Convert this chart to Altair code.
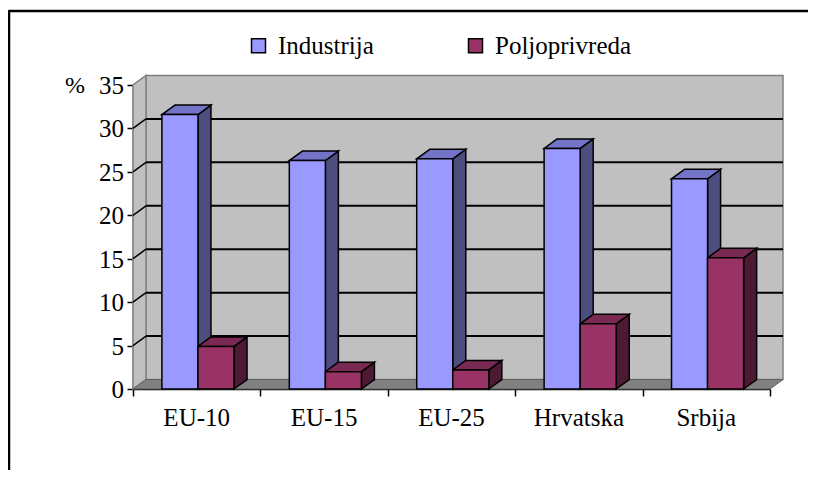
import altair as alt
import pandas as pd

# ---- data ----
categories = ["EU-10", "EU-15", "EU-25", "Hrvatska", "Srbija"]
series = ["Industrija", "Poljoprivreda"]
industrija = [31.6, 26.3, 26.5, 27.7, 24.2]
poljoprivreda = [4.9, 2.0, 2.2, 7.5, 15.1]
y_ticks = [0, 5, 10, 15, 20, 25, 30, 35]
y_unit = ["%"]

# ---- styling / layout constants ----
FONT = "Liberation Serif"
FS = 25
FRONT = ["#9999FF", "#993366"]
TOP = ["#7373C8", "#7A2952"]
SIDE = ["#4D4D80", "#4D1A33"]
W, H = 637, 304
PAD = {"left": 125, "top": 77, "right": 39, "bottom": 82}
N = len(categories)
YMAX = 35
DX = 13 / (W / N)          # depth offset in category units
DY = 9.5 / (H / YMAX)      # depth offset in value units
BAR_W = 0.283
START = 0.227

values = {"Industrija": industrija, "Poljoprivreda": poljoprivreda}

front_rows, side_rows, top_rows = [], [], []
for i, c in enumerate(categories):
    for s_i, s in enumerate(series):
        v = values[s][i]
        x0 = i + START + s_i * BAR_W
        x1 = x0 + BAR_W
        bid = f"{c}-{s}"
        front_rows.append(dict(cat=c, series=s, x0=x0, x1=x1, y0=0.0, y1=v))
        side_rows += [
            dict(bar=bid, series=s, x=x1, y=0.0, y2=v),
            dict(bar=bid, series=s, x=x1 + DX, y=DY, y2=v + DY),
        ]
        top_rows += [
            dict(bar=bid, series=s, y=v, x=x0, x2=x1),
            dict(bar=bid, series=s, y=v + DY, x=x0 + DX, x2=x1 + DX),
        ]
front_df = pd.DataFrame(front_rows)
side_df = pd.DataFrame(side_rows)
top_df = pd.DataFrame(top_rows)

xs = alt.Scale(domain=[0, N], nice=False, zero=False)
ys = alt.Scale(domain=[0, YMAX], nice=False, zero=False)

# axes: lines and ticks from the library; labels drawn as text marks below
x_axis = alt.Axis(
    values=list(range(N + 1)), labels=False,
    tickSize=7, tickWidth=1.5, tickColor="black",
    domainColor="black", domainWidth=1.5,
    grid=False, title=None,
)
y_axis = alt.Axis(
    values=y_ticks, labels=False,
    tickSize=6, tickWidth=1.5, tickColor="black",
    domainColor="black", domainWidth=1.5,
    grid=False, title=None,
)


def X(field):
    return alt.X(field, type="quantitative", scale=xs, axis=x_axis)


def Y(field):
    return alt.Y(field, type="quantitative", scale=ys, axis=y_axis)


# ---- walls and floor ----
wall_df = pd.DataFrame([dict(x=DX, x2=N + DX, y=DY, y2=YMAX + DY)])
back_wall = alt.Chart(wall_df).mark_rect(
    fill="#C0C0C0", stroke="#808080", strokeWidth=1.5
).encode(x=X("x"), x2="x2", y=Y("y"), y2="y2")

left_df = pd.DataFrame([dict(x=0.0, y=0.0, y2=float(YMAX)), dict(x=DX, y=DY, y2=YMAX + DY)])
left_wall = alt.Chart(left_df).mark_area(
    fill="#C0C0C0", stroke="#808080", strokeWidth=1.5, orient="vertical"
).encode(x=X("x"), y=Y("y"), y2="y2")

floor_df = pd.DataFrame([dict(y=0.0, x=0.0, x2=float(N)), dict(y=DY, x=DX, x2=N + DX)])
floor = alt.Chart(floor_df).mark_area(
    fill="#808080", stroke="#606060", strokeWidth=1, orient="horizontal"
).encode(y=Y("y"), x=X("x"), x2="x2")

grid_vals = [v for v in y_ticks if 0 < v < YMAX]
grid_df = pd.DataFrame(dict(v=grid_vals))
back_grid = alt.Chart(grid_df).transform_calculate(
    x="0 + %f" % DX, x2="%d + %f" % (N, DX), y="datum.v + %f" % DY
).mark_rule(color="black", strokeWidth=2).encode(x=X("x:Q"), x2="x2:Q", y=Y("y:Q"))
side_grid = alt.Chart(grid_df).transform_calculate(
    x="0", x2="%f" % DX, y2="datum.v + %f" % DY
).mark_rule(color="black", strokeWidth=1.5).encode(
    x=X("x:Q"), x2="x2:Q", y=Y("v:Q"), y2="y2:Q"
)

# ---- bars ----
sides = alt.Chart(side_df).mark_area(
    stroke="black", strokeWidth=1.5, orient="vertical", opacity=1
).encode(
    x=X("x"), y=Y("y"), y2="y2", detail="bar:N",
    color=alt.Color("series:N", scale=alt.Scale(domain=series, range=SIDE), legend=None),
)
tops = alt.Chart(top_df).mark_area(
    stroke="black", strokeWidth=1.5, orient="horizontal", opacity=1
).encode(
    y=Y("y"), x=X("x"), x2="x2", detail="bar:N",
    color=alt.Color("series:N", scale=alt.Scale(domain=series, range=TOP), legend=None),
)
fronts = alt.Chart(front_df).mark_rect(stroke="black", strokeWidth=1.5, opacity=1).encode(
    x=X("x0"), x2="x1", y=Y("y0"), y2="y1",
    color=alt.Color(
        "series:N",
        scale=alt.Scale(domain=series, range=FRONT),
        legend=alt.Legend(
            title=None, orient="none", direction="horizontal",
            legendX=113, legendY=-52, padding=0,
            symbolType="square", symbolSize=196,
            symbolStrokeColor="black", symbolStrokeWidth=1.5, symbolOpacity=1,
            labelFont=FONT, labelFontSize=FS, labelColor="black",
            labelOffset=7, columnPadding=89,
        ),
    ),
)

# ---- text labels (as text marks, positioned through the scales) ----
ylab_df = pd.DataFrame({"v": y_ticks, "t": [str(v) for v in y_ticks]})
y_labels = alt.Chart(ylab_df).mark_text(
    font=FONT, fontSize=FS, align="right", baseline="middle", dx=-9, dy=1, color="black"
).encode(x=alt.value(0), y=Y("v:Q"), text="t:N")

xlab_df = pd.DataFrame({"cat": categories, "i": list(range(N))})
x_labels = alt.Chart(xlab_df).transform_calculate(xc="datum.i + 0.5").mark_text(
    font=FONT, fontSize=FS, align="center", baseline="top", dy=17, color="black"
).encode(x=X("xc:Q"), y=alt.value(H), text="cat:N")

unit_df = pd.DataFrame({"t": y_unit, "v": [YMAX]})
unit_label = alt.Chart(unit_df).mark_text(
    font=FONT, fontSize=24, align="left", baseline="middle", dx=-68, dy=1, color="black"
).encode(x=alt.value(0), y=Y("v:Q"), text="t:N")

# outer frame: only top and left edges are visible in the reference
frame_df = pd.DataFrame({"k": [1]})
frame_top = alt.Chart(frame_df).mark_rule(color="black", strokeWidth=2.5).encode(
    x=alt.value(-124), x2=alt.value(W + PAD["right"] - 1), y=alt.value(-74)
)
frame_left = alt.Chart(frame_df).mark_rule(color="black", strokeWidth=2.5).encode(
    x=alt.value(-124), y=alt.value(-75), y2=alt.value(H + PAD["bottom"] - 1)
)

chart = alt.layer(
    frame_top, frame_left, back_wall, left_wall, floor, back_grid, side_grid,
    sides, tops, fronts, y_labels, x_labels, unit_label
).resolve_scale(color="independent").properties(
    width=W, height=H,
    autosize=alt.AutoSizeParams(type="none"),
    padding=PAD,
    background="white",
).configure(font=FONT).configure_legend(labelFont=FONT).configure_view(strokeWidth=0)

chart.save("out.html", embed_options={"renderer": "svg", "actions": False})
